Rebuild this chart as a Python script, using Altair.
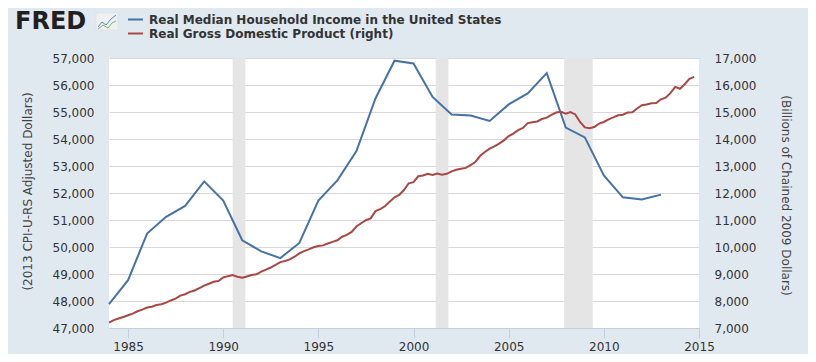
import altair as alt
import pandas as pd

# ---------------- data ----------------
income_years = list(range(1984, 2014))
income_values = [47880, 48770, 50500, 51120, 51520, 52430, 51720, 50250, 49840, 49590,
                 50150, 51720, 52470, 53550, 55500, 56900, 56800, 55560, 54910, 54870,
                 54670, 55280, 55690, 56440, 54420, 54060, 52650, 51840, 51760, 51940]

gdp_years = list(range(1984, 2015))
gdp_months = [1, 4, 7, 10]
gdp_values = [
    7200, 7290, 7350, 7410,      # 1984
    7470, 7530, 7620, 7680,      # 1985
    7760, 7790, 7850, 7880,      # 1986
    7940, 8020, 8090, 8200,      # 1987
    8250, 8340, 8390, 8480,      # 1988
    8570, 8640, 8710, 8740,      # 1989
    8870, 8920, 8960, 8900,      # 1990
    8860, 8910, 8960, 8990,      # 1991
    9090, 9160, 9240, 9340,      # 1992
    9440, 9480, 9540, 9640,      # 1993
    9760, 9850, 9910, 9990,      # 1994
    10040, 10060, 10130, 10190,  # 1995
    10250, 10380, 10450, 10560,  # 1996
    10760, 10880, 10990, 11060,  # 1997
    11330, 11400, 11510, 11680,  # 1998
    11840, 11930, 12110, 12360,  # 1999
    12400, 12620, 12650, 12710,  # 2000
    12670, 12720, 12680, 12710,  # 2001
    12800, 12860, 12900, 12930,  # 2002
    13030, 13150, 13370, 13520,  # 2003
    13640, 13730, 13830, 13950,  # 2004
    14110, 14200, 14330, 14410,  # 2005
    14590, 14620, 14650, 14740,  # 2006
    14790, 14890, 14980, 15010,  # 2007
    14940, 15000, 14910, 14630,  # 2008
    14430, 14395, 14445, 14570,  # 2009
    14630, 14730, 14800, 14880,  # 2010
    14900, 14980, 14990, 15130,  # 2011
    15250, 15280, 15320, 15330,  # 2012
    15470, 15530, 15700, 15930,  # 2013
    15860, 16030, 16230, 16300,  # 2014
]

rec_start = ["1990-07-01", "2001-03-01", "2007-12-01"]
rec_end = ["1991-03-01", "2001-11-01", "2009-06-01"]

left_ticks = list(range(47000, 57001, 1000))
right_ticks = list(range(7000, 17001, 1000))
x_tick_years = list(range(1985, 2016, 5))

series1_name = "Real Median Household Income in the United States"
series2_name = "Real Gross Domestic Product (right)"
left_title = "(2013 CPI-U-RS Adjusted Dollars)"
right_title = "(Billions of Chained 2009 Dollars)"

# ---------------- style ----------------
BG = "#E1E9F0"
BLUE = "#4572A7"
RED = "#AA4643"
FONT = "DejaVu Sans"
TXT = "#333333"

income_df = pd.DataFrame({
    "date": pd.to_datetime([f"{y}-01-01" for y in income_years]),
    "value": income_values,
})
gdp_df = pd.DataFrame({
    "date": pd.to_datetime([f"{y}-{m:02d}-01" for y in gdp_years for m in gdp_months]),
    "value": gdp_values,
})
rec_df = pd.DataFrame({"start": pd.to_datetime(rec_start), "end": pd.to_datetime(rec_end)})

xscale = alt.Scale(domain=[alt.DateTime(year=1984, month=1, date=1),
                           alt.DateTime(year=2015, month=1, date=1)], nice=False)
xaxis = alt.Axis(values=[alt.DateTime(year=y, month=1, date=1) for y in x_tick_years],
                 format="%Y", title=None, grid=False, domainColor="#C0D0E0",
                 tickColor="#C0D0E0", tickSize=10, labelPadding=3, labelFlush=False,
                 labelOverlap=False, labelFont=FONT, labelFontSize=12, labelColor=TXT)

rec = alt.Chart(rec_df).mark_rect(color="#E5E5E5").encode(
    x=alt.X("start:T", scale=xscale, axis=xaxis), x2="end:T")

blue = alt.Chart(income_df).mark_line(color=BLUE, strokeWidth=2).encode(
    x=alt.X("date:T", scale=xscale, axis=xaxis),
    y=alt.Y("value:Q", scale=alt.Scale(domain=[47000, 57000], nice=False, zero=False),
            axis=alt.Axis(values=left_ticks, format=",.0f", ticks=False, domain=False,
                          grid=True, gridColor="#D8D8D8", labelPadding=15,
                          labelFont=FONT, labelFontSize=12, labelColor=TXT,
                          title=left_title, titleAngle=270, titleX=-82, titleY=133,
                          titleAlign="center", titleBaseline="middle",
                          titleFont=FONT, titleFontSize=12, titleFontWeight="normal",
                          titleColor="#444444")))

red = alt.Chart(gdp_df).mark_line(color=RED, strokeWidth=2).encode(
    x=alt.X("date:T", scale=xscale, axis=xaxis),
    y=alt.Y("value:Q", scale=alt.Scale(domain=[7000, 17000], nice=False, zero=False),
            axis=alt.Axis(orient="right", values=right_ticks, format=",.0f", ticks=False,
                          domain=False, grid=False, labelPadding=15,
                          labelFont=FONT, labelFontSize=12, labelColor=TXT,
                          title=right_title, titleAngle=90, titleX=86, titleY=137,
                          titleAlign="center", titleBaseline="middle",
                          titleFont=FONT, titleFontSize=12, titleFontWeight="normal",
                          titleColor="#444444")))

one = pd.DataFrame({"k": [0]})
leg_blue_line = alt.Chart(one).mark_rule(color=BLUE, strokeWidth=2).encode(
    x=alt.value(19), x2=alt.value(34), y=alt.value(-38.5))
leg_red_line = alt.Chart(one).mark_rule(color=RED, strokeWidth=2).encode(
    x=alt.value(19), x2=alt.value(34), y=alt.value(-24.5))
leg_blue_txt = alt.Chart(one).mark_text(text=series1_name, font=FONT, fontSize=12,
                                        fontWeight="bold", color=TXT, align="left",
                                        baseline="middle").encode(
    x=alt.value(40), y=alt.value(-38.5))
leg_red_txt = alt.Chart(one).mark_text(text=series2_name, font=FONT, fontSize=12,
                                       fontWeight="bold", color=TXT, align="left",
                                       baseline="middle").encode(
    x=alt.value(40), y=alt.value(-24.5))
logo = alt.Chart(one).mark_text(text="FRED", font=FONT, fontSize=24, fontWeight="bold",
                                color="#231F20", align="left", baseline="middle").encode(
    x=alt.value(-94), y=alt.value(-36))

# small logo icon (decoration)
icon_box = alt.Chart(one).mark_rect(fill="#EEF0F2", stroke="#D5D9DE", strokeWidth=0.5).encode(
    x=alt.value(-13), x2=alt.value(9), y=alt.value(-45), y2=alt.value(-28))
icon_segs = [
    (-11, -31, -7, -36, "#5B8BC4"), (-7, -36, -3, -33, "#5B8BC4"),
    (-3, -33, 2, -39, "#5B8BC4"), (2, -39, 7, -43, "#5B8BC4"),
    (-11, -29, -6, -33, "#7DB65A"), (-6, -33, -1, -30, "#7DB65A"),
    (-1, -30, 3, -35, "#7DB65A"), (3, -35, 7, -37, "#7DB65A"),
]
icon_layers = [
    alt.Chart(one).mark_rule(color=c, strokeWidth=1).encode(
        x=alt.value(a), y=alt.value(b), x2=alt.value(cx), y2=alt.value(d))
    for a, b, cx, d, c in icon_segs
]

chart = alt.layer(rec, blue, red, leg_blue_line, leg_red_line, leg_blue_txt,
                  leg_red_txt, logo, icon_box, *icon_layers).resolve_scale(
    y="independent").properties(
    width=590, height=270,
    padding={"left": 101, "top": 50, "right": 109, "bottom": 26},
    autosize=alt.AutoSizeParams(type="none"),
    background=BG,
).configure_view(fill="white", stroke=None)

chart.save("out.html", embed_options={"renderer": "svg", "actions": False})
